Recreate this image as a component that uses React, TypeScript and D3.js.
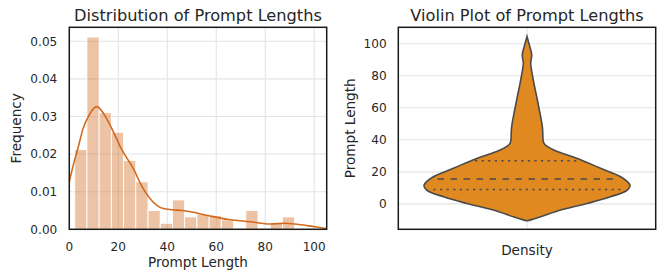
import React from 'react';
import * as d3 from 'd3';

// histogram (density) — 18 bins
const binLo = 2.2;
const binWidth = 4.99;
const histDensity = [
  0.0212, 0.0511, 0.031, 0.0258, 0.0183, 0.0126, 0.005, 0.0016, 0.0078,
  0.0033, 0.004, 0.0037, 0.0025, 0, 0.005, 0, 0.0016, 0.0033,
];

// kde curve, x / density
const kdeX = [0, 2, 3.4, 5.5, 8.2, 11.2, 15, 19, 21, 26, 30, 34, 38, 42, 46, 50, 57, 65, 74, 82, 88, 92, 98, 104, 105.1];
const kdeY = [0.0127, 0.018, 0.0212, 0.0265, 0.0305, 0.0326, 0.0297, 0.0245, 0.0217, 0.0163, 0.011, 0.0074, 0.0056, 0.0052, 0.005, 0.0046, 0.0036, 0.0026, 0.002, 0.0014, 0.0016, 0.0014, 0.0009, 0.0003, 0.0002];

const histXTicks = [0, 20, 40, 60, 80, 100];
const histYTicks = [0, 0.01, 0.02, 0.03, 0.04, 0.05];

// violin profile: prompt length / relative density
const violinV = [-10.6, -10.0, -8.1, -3.9, 0.25, 4.4, 8.6, 11.7, 16.9, 22.2, 28.4, 31.6, 33.6, 35.7, 37.8, 40, 46.1, 50, 56.6, 67, 77.5, 87.9, 93.1, 99.4, 104.6];
const violinD = [0, 0.036, 0.133, 0.327, 0.585, 0.81, 0.974, 1.0, 0.91, 0.715, 0.488, 0.34, 0.26, 0.2, 0.165, 0.156, 0.152, 0.145, 0.126, 0.094, 0.061, 0.036, 0.046, 0.022, 0];
const quartiles = [9.0, 15.5, 26.9];
const violinYTicks = [0, 20, 40, 60, 80, 100];

const W = 668;
const H = 276;
const font = 'DejaVu Sans';
const textColor = '#262626';
const gridColor = '#e4e4e4';

const left = { x0: 69.3, x1: 326.7, y0: 27.3, y1: 229.3 };
const right = { x0: 398.3, x1: 655.7, y0: 27.3, y1: 229.3 };

export default function App() {
  // left panel scales
  const x = d3.scaleLinear().domain([0, 105.1]).range([left.x0, left.x1]);
  const y = d3.scaleLinear().domain([0, 0.0537]).range([left.y1, left.y0]);

  const kde = d3
    .line<number>()
    .x((_, i) => x(kdeX[i]))
    .y((d) => y(d))
    .curve(d3.curveMonotoneX)(kdeY);

  // right panel scales
  const vx = d3.scaleLinear().domain([-0.5, 0.5]).range([right.x0, right.x1]);
  const vy = d3.scaleLinear().domain([-15.9, 110.3]).range([right.y1, right.y0]);
  const hw = d3.scaleLinear().domain([0, 1]).range([0, 0.4]);

  const violin = d3
    .area<number>()
    .y((_, i) => vy(violinV[i]))
    .x0((d) => vx(-hw(d)))
    .x1((d) => vx(hw(d)))
    .curve(d3.curveCatmullRom)(violinD);

  const profile = d3.scaleLinear().domain(violinV).range(violinD);

  return (
    <svg
      width={W}
      height={H}
      style={{ position: 'absolute', left: 0, top: 0, background: '#fff' }}
      fontFamily={font}
    >
      {/* ---- histogram ---- */}
      <g>
        {histXTicks.map((t) => (
          <line key={'gx' + t} x1={x(t)} x2={x(t)} y1={left.y0} y2={left.y1} stroke={gridColor} strokeWidth={1.1} />
        ))}
        {histYTicks.map((t) => (
          <line key={'gy' + t} x1={left.x0} x2={left.x1} y1={y(t)} y2={y(t)} stroke={gridColor} strokeWidth={1.1} />
        ))}
        {histDensity.map((d, i) =>
          d > 0 ? (
            <rect
              key={i}
              x={x(binLo + i * binWidth)}
              width={x(binLo + (i + 1) * binWidth) - x(binLo + i * binWidth)}
              y={y(d)}
              height={y(0) - y(d)}
              fill="#d2691e"
              fillOpacity={0.4}
              stroke="#fff"
              strokeWidth={0.9}
            />
          ) : null
        )}
        <path d={kde || ''} fill="none" stroke="#d2691e" strokeWidth={1.6} />
        <rect
          x={left.x0}
          y={left.y0}
          width={left.x1 - left.x0}
          height={left.y1 - left.y0}
          fill="none"
          stroke="#1a1a1a"
          strokeWidth={1.5}
        />
        {histXTicks.map((t) => (
          <text key={'tx' + t} x={x(t)} y={250.7} textAnchor="middle" fontSize={12.1} fill={textColor}>
            {t}
          </text>
        ))}
        {histYTicks.map((t) => (
          <text key={'ty' + t} x={57.3} y={y(t)} dy="0.36em" textAnchor="end" fontSize={12.1} fill={textColor}>
            {t.toFixed(2)}
          </text>
        ))}
        <text x={(left.x0 + left.x1) / 2} y={267.3} textAnchor="middle" fontSize={13.6} fill={textColor}>
          Prompt Length
        </text>
        <text
          transform={`translate(21.3, ${(left.y0 + left.y1) / 2}) rotate(-90)`}
          textAnchor="middle"
          fontSize={13.6}
          fill={textColor}
        >
          Frequency
        </text>
        <text x={(left.x0 + left.x1) / 2} y={21.1} textAnchor="middle" fontSize={16.2} fill={textColor}>
          Distribution of Prompt Lengths
        </text>
      </g>

      {/* ---- violin ---- */}
      <g>
        <line x1={vx(0)} x2={vx(0)} y1={right.y0} y2={right.y1} stroke={gridColor} strokeWidth={1.1} />
        {violinYTicks.map((t) => (
          <line key={'vg' + t} x1={right.x0} x2={right.x1} y1={vy(t)} y2={vy(t)} stroke={gridColor} strokeWidth={1.1} />
        ))}
        <path d={violin || ''} fill="#df8920" stroke="#4a4a4a" strokeWidth={1.6} />
        {quartiles.map((q, i) => {
          const w = hw(profile(q)) * 0.93;
          return (
            <line
              key={'q' + i}
              x1={vx(-w)}
              x2={vx(w)}
              y1={vy(q)}
              y2={vy(q)}
              stroke="#4a4a4a"
              strokeWidth={1.6}
              strokeDasharray={i === 1 ? '6.5 6.5' : '2.2 4.4'}
            />
          );
        })}
        <rect
          x={right.x0}
          y={right.y0}
          width={right.x1 - right.x0}
          height={right.y1 - right.y0}
          fill="none"
          stroke="#1a1a1a"
          strokeWidth={1.5}
        />
        {violinYTicks.map((t) => (
          <text key={'vt' + t} x={386.7} y={vy(t)} dy="0.36em" textAnchor="end" fontSize={12.1} fill={textColor}>
            {t}
          </text>
        ))}
        <text x={vx(0)} y={255.2} textAnchor="middle" fontSize={13.6} fill={textColor}>
          Density
        </text>
        <text
          transform={`translate(354.5, ${(right.y0 + right.y1) / 2}) rotate(-90)`}
          textAnchor="middle"
          fontSize={13.6}
          fill={textColor}
        >
          Prompt Length
        </text>
        <text x={vx(0)} y={21.1} textAnchor="middle" fontSize={16.2} fill={textColor}>
          Violin Plot of Prompt Lengths
        </text>
      </g>
    </svg>
  );
}
